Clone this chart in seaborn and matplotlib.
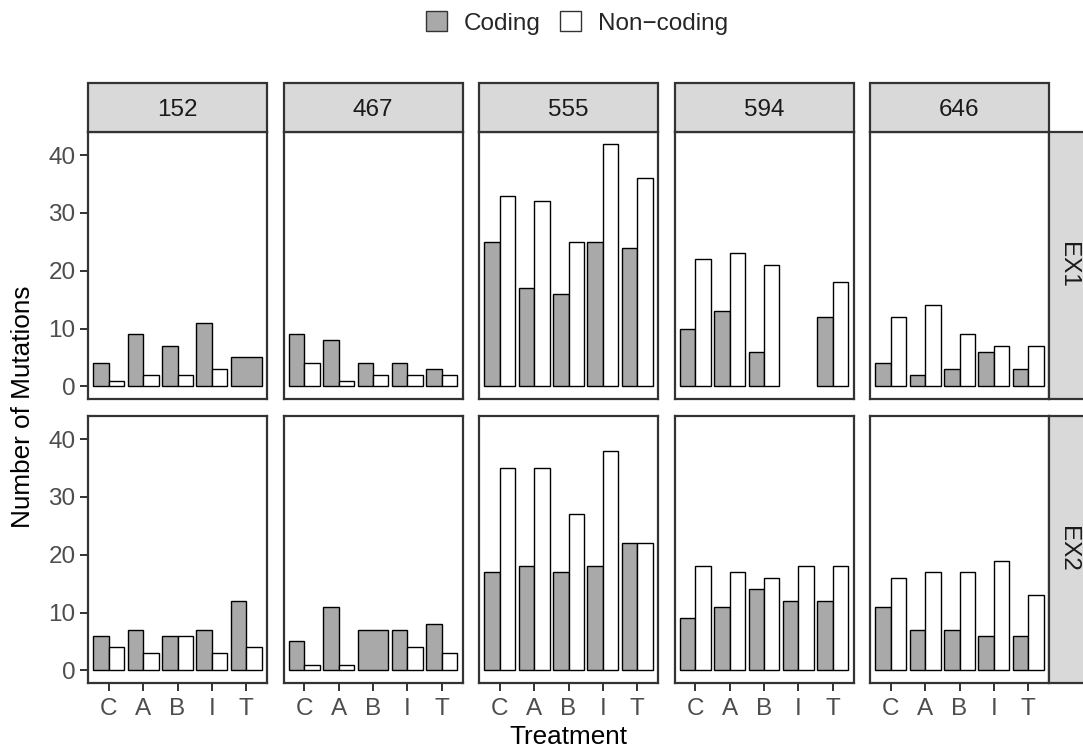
import numpy as np
import pandas as pd
import matplotlib
matplotlib.use("Agg")
import matplotlib.pyplot as plt
from matplotlib.patches import Rectangle, Patch
import seaborn as sns

# ---- data -------------------------------------------------------------
treatments = ["C", "A", "B", "I", "T"]
isolates = ["152", "467", "555", "594", "646"]
experiments = ["EX1", "EX2"]
mutation_types = ["Coding", "Non-coding"]

# one list per isolate, values in treatment order (None = no mutations recorded)
ex1_coding = [[4, 9, 7, 11, 5], [9, 8, 4, 4, 3], [25, 17, 16, 25, 24],
              [10, 13, 6, None, 12], [4, 2, 3, 6, 3]]
ex1_noncoding = [[1, 2, 2, 3, None], [4, 1, 2, 2, 2], [33, 32, 25, 42, 36],
                 [22, 23, 21, None, 18], [12, 14, 9, 7, 7]]
ex2_coding = [[6, 7, 6, 7, 12], [5, 11, 7, 7, 8], [17, 18, 17, 18, 22],
              [9, 11, 14, 12, 12], [11, 7, 7, 6, 6]]
ex2_noncoding = [[4, 3, 6, 3, 4], [1, 1, None, 4, 3], [35, 35, 27, 38, 22],
                 [18, 17, 16, 18, 18], [16, 17, 17, 19, 13]]

counts = {
    ("EX1", "Coding"): ex1_coding,
    ("EX1", "Non-coding"): ex1_noncoding,
    ("EX2", "Coding"): ex2_coding,
    ("EX2", "Non-coding"): ex2_noncoding,
}

rows = []
for (exp, mtype), table in counts.items():
    for iso, vals in zip(isolates, table):
        for trt, v in zip(treatments, vals):
            if v is not None:
                rows.append(dict(experiment=exp, isolate=iso, treatment=trt,
                                 type=mtype, n=v))
df = pd.DataFrame(rows)

# ---- style ------------------------------------------------------------
sns.set_theme(style="white")
plt.rcParams["font.family"] = ["Liberation Sans", "DejaVu Sans"]

FILL = {"Coding": "#A9A9A9", "Non-coding": "#FFFFFF"}
DARK = "#333333"
TICK_TXT = "#4D4D4D"
FS = 17.5
TITLE_FS = 18.8

W, H = 1083, 750
PANEL_W, PANEL_H = 179, 267
LEFTS = [88 + 195.5 * i for i in range(5)]
TOPS = [131.5, 415.5]
STRIP = 48.5


def dodged_bars(data, **kws):
    """Bars dodged within each treatment; a lone bar takes the full slot."""
    ax = plt.gca()
    total = 0.9
    for i, trt in enumerate(treatments):
        sub = data[data["treatment"] == trt]
        present = [t for t in mutation_types if t in set(sub["type"])]
        if not present:
            continue
        w = total / len(present)
        for j, t in enumerate(present):
            val = sub.loc[sub["type"] == t, "n"].iloc[0]
            x = i - total / 2 + w * (j + 0.5)
            ax.bar(x, val, width=w, color=FILL[t], edgecolor="black",
                   linewidth=1.0, zorder=2)


g = sns.FacetGrid(df, row="experiment", col="isolate",
                  row_order=experiments, col_order=isolates,
                  sharex=True, sharey=True, despine=False)
g.map_dataframe(dodged_bars)
g.set_titles("")
g.set_axis_labels("", "")

fig = g.figure
fig.set_size_inches(W / 100, H / 100)
fig.set_dpi(100)
fig.patch.set_facecolor("white")

for r, exp in enumerate(experiments):
    for c, iso in enumerate(isolates):
        ax = g.axes[r, c]
        left = LEFTS[c] / W
        bottom = 1 - (TOPS[r] + PANEL_H) / H
        ax.set_position([left, bottom, PANEL_W / W, PANEL_H / H])
        ax.set_xlim(-0.6, len(treatments) - 0.4)
        ax.set_ylim(-2.1, 44.1)
        ax.set_xticks(range(len(treatments)))
        ax.set_xticklabels(treatments)
        ax.set_yticks([0, 10, 20, 30, 40])
        ax.grid(False)
        ax.set_facecolor("white")
        for sp in ax.spines.values():
            sp.set_color(DARK)
            sp.set_linewidth(1.6)
            sp.set_zorder(5)
        ax.tick_params(axis="both", colors=DARK, labelcolor=TICK_TXT,
                       labelsize=FS, length=5.5, width=1.4, pad=3.5)
        ax.tick_params(axis="x", pad=5.5)
        ax.tick_params(axis="x", bottom=(r == 1), labelbottom=(r == 1))
        ax.tick_params(axis="y", left=(c == 0), labelleft=(c == 0))

        # column strips on top row
        if r == 0:
            h = STRIP / PANEL_H
            ax.add_patch(Rectangle((0, 1), 1, h, transform=ax.transAxes,
                                   facecolor="#D9D9D9", edgecolor=DARK,
                                   linewidth=1.6, clip_on=False, zorder=6))
            ax.text(0.5, 1 + (STRIP / 2 - 2.5) / PANEL_H, iso,
                    transform=ax.transAxes, ha="center", va="center",
                    fontsize=FS, color="#1A1A1A", zorder=7)
        # row strips on the right-most column
        if c == len(isolates) - 1:
            wfrac = STRIP / PANEL_W
            ax.add_patch(Rectangle((1, 0), wfrac, 1, transform=ax.transAxes,
                                   facecolor="#D9D9D9", edgecolor=DARK,
                                   linewidth=1.6, clip_on=False, zorder=6))
            ax.text(1 + (STRIP / 2 - 5) / PANEL_W, 0.5, exp,
                    transform=ax.transAxes, ha="center", va="center",
                    rotation=-90, fontsize=FS, color="#1A1A1A", zorder=7)

# axis titles
fig.text((LEFTS[0] + LEFTS[-1] + PANEL_W) / 2 / W, 1 - 737 / H, "Treatment",
         ha="center", va="center", fontsize=TITLE_FS, color="black")
fig.text(23 / W, 1 - (TOPS[0] + TOPS[1] + PANEL_H) / 2 / H,
         "Number of Mutations", ha="center", va="center", rotation=90,
         fontsize=TITLE_FS, color="black")

# legend
handles = [Patch(facecolor=FILL[t], edgecolor=DARK, linewidth=1.0)
           for t in mutation_types]
labels = ["Coding", "Non\u2212coding"]
fig.legend(handles, labels, loc="center", bbox_to_anchor=(577 / W, 1 - 23 / H),
           ncol=2, frameon=False, fontsize=FS, handlelength=0.86,
           handleheight=0.86, handletextpad=0.7, columnspacing=0.8,
           borderaxespad=0, borderpad=0)

fig.savefig("out.png", dpi=100, facecolor="white")
